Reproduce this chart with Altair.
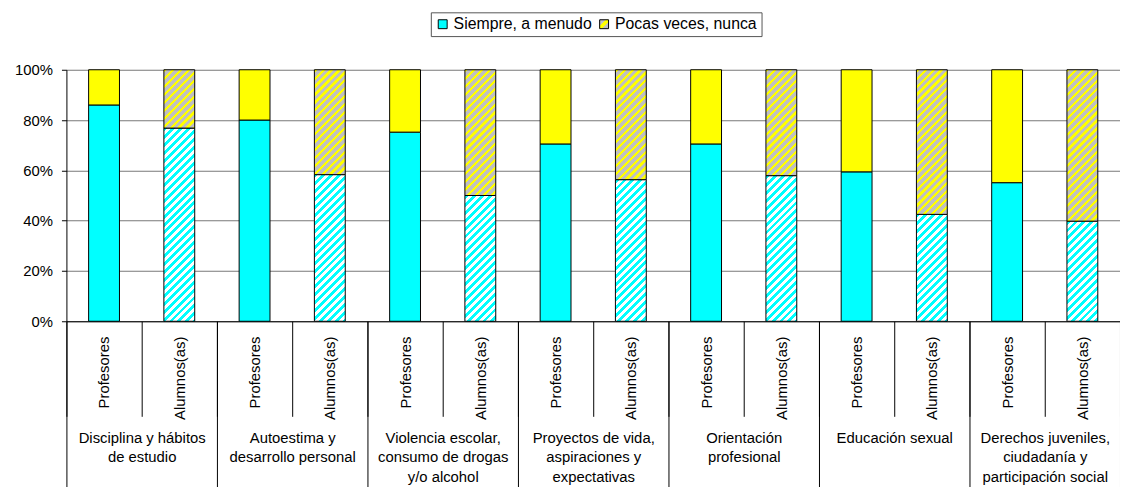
import altair as alt

# ---- data ----
categories = [
    "Disciplina y hábitos|de estudio",
    "Autoestima y|desarrollo personal",
    "Violencia escolar,|consumo de drogas|y/o alcohol",
    "Proyectos de vida,|aspiraciones y|expectativas",
    "Orientación|profesional",
    "Educación sexual",
    "Derechos juveniles,|ciudadanía y|participación social",
]
groups = ["Profesores", "Alumnos(as)"]
series = ["Siempre, a menudo", "Pocas veces, nunca"]
profesores = [0.86, 0.80, 0.752, 0.705, 0.705, 0.594, 0.551]
alumnos = [0.768, 0.583, 0.50, 0.563, 0.579, 0.425, 0.398]

# ---- layout / style ----
W, H = 1064, 254
PAD_INNER = 0.59
CYAN, YELLOW, GRAY, WHITE = "#00ffff", "#ffff00", "#c0c0c0", "#ffffff"
FONT = "Liberation Sans"
N_SLOTS = len(categories) * len(groups)

step = W / N_SLOTS
bar_w = step * (1 - PAD_INNER)


def hatch(w, h, c_stripe, c_back, frac, period=8.0):
    """Diagonal '/' hatching as a hard-stop linear gradient (bbox units)."""
    L = w + h
    s = L / (w * w + h * h)
    stops = []
    pos = 0.0
    while pos < L:
        a = pos / L
        b = min((pos + frac * period) / L, 1.0)
        c = min((pos + period) / L, 1.0)
        stops += [
            {"offset": a, "color": c_stripe},
            {"offset": b, "color": c_stripe},
            {"offset": b, "color": c_back},
            {"offset": c, "color": c_back},
        ]
        pos += period
    return {"gradient": "linear", "x1": 0, "y1": 0, "x2": w * s, "y2": h * s, "stops": stops}


rows = []
for i, cat in enumerate(categories):
    for j, g in enumerate(groups):
        v = profesores[i] if j == 0 else alumnos[i]
        slot = i * len(groups) + j
        for k, (lo, hi) in enumerate([(0.0, v), (v, 1.0)]):
            if j == 0:
                fill = CYAN if k == 0 else YELLOW
            else:
                h = (hi - lo) * H
                fill = hatch(bar_w, h, CYAN, WHITE, 0.5) if k == 0 else hatch(bar_w, h, YELLOW, GRAY, 0.4)
            rows.append({"slot": slot, "serie": series[k], "lo": lo, "hi": hi, "fill": fill})

group_expr = "[" + ",".join("'%s'" % g for g in groups) + "]"
slots = list(range(N_SLOTS))

bars = (
    alt.Chart(alt.Data(values=rows))
    .mark_bar(stroke="black", strokeWidth=1)
    .encode(
        x=alt.X(
            "slot:O",
            scale=alt.Scale(domain=slots, paddingInner=PAD_INNER, paddingOuter=PAD_INNER / 2),
            axis=None,
        ),
        y=alt.Y(
            "lo:Q",
            scale=alt.Scale(domain=[0, 1]),
            axis=alt.Axis(
                title=None,
                values=[0, 0.2, 0.4, 0.6, 0.8, 1.0],
                format=".0%",
                grid=True,
                gridColor="#777777",
                tickSize=5,
                labelPadding=9,
            ),
        ),
        y2="hi:Q",
        fill=alt.Fill("fill:N", scale=None),
    )
)

sub_axis = (
    alt.Chart(alt.Data(values=[{"slot": s} for s in slots]))
    .mark_point(opacity=0)
    .encode(
        x=alt.X(
            "slot:O",
            scale=alt.Scale(domain=slots, paddingInner=0, paddingOuter=0),
            axis=alt.Axis(
                title=None,
                orient="bottom",
                tickBand="extent",
                tickSize=96,
                labelAngle=270,
                labelPadding=-81,
                labelOverlap=False,
                labelExpr="isValid(datum.value) ? " + group_expr + "[datum.value % 2] : ''",
                domainColor="black",
            ),
        ),
        y=alt.value(0),
    )
)

cat_axis = (
    alt.Chart(alt.Data(values=[{"cat": c} for c in categories]))
    .mark_point(opacity=0)
    .encode(
        x=alt.X(
            "cat:N",
            sort=None,
            scale=alt.Scale(domain=categories, paddingInner=0, paddingOuter=0),
            axis=alt.Axis(
                title=None,
                orient="bottom",
                tickBand="extent",
                tickSize=175,
                labelAngle=0,
                labelBaseline="top",
                labelPadding=-65,
                labelLineHeight=20,
                labelOverlap=False,
                labelExpr="isValid(datum.value) ? split(datum.value, '|') : ''",
                domain=False,
            ),
        ),
        y=alt.value(0),
    )
)

legend_grad = (
    "{gradient:'linear',x1:0,y1:0,x2:1,y2:1,stops:["
    "{offset:0,color:'#c0c0c0'},{offset:0.36,color:'#c0c0c0'},"
    "{offset:0.36,color:'#ffff00'},{offset:0.62,color:'#ffff00'},"
    "{offset:0.62,color:'#c0c0c0'},{offset:1,color:'#c0c0c0'}]}"
)

legend_layer = (
    alt.Chart(alt.Data(values=[{"serie": s} for s in series]))
    .mark_square(opacity=0)
    .encode(
        color=alt.Color(
            "serie:N",
            scale=alt.Scale(domain=series, range=[CYAN, alt.ExprRef(expr=legend_grad)]),
            legend=alt.Legend(
                title=None,
                orient="none",
                legendX=368,
                legendY=-58,
                direction="horizontal",
                symbolType="square",
                symbolSize=81,
                symbolOpacity=1,
                symbolStrokeColor="black",
                symbolStrokeWidth=1,
                labelFont=FONT,
                labelFontSize=16,
                labelColor="black",
                labelOffset=3,
                columnPadding=4,
                padding=4,
                strokeColor="#555555",
                fillColor="white",
            ),
        ),
        x=alt.value(0),
        y=alt.value(0),
    )
)

chart = (
    alt.layer(bars, sub_axis, cat_axis, legend_layer)
    .resolve_scale(x="independent")
    .properties(
        width=W,
        height=H,
        autosize=alt.AutoSizeParams(type="none"),
        padding={"left": 59, "top": 60, "right": 0, "bottom": 165},
        background="white",
    )
    .configure_view(stroke=None)
    .configure_axis(
        labelFont=FONT,
        labelFontSize=15,
        labelColor="black",
        tickColor="black",
        domainColor="black",
    )
)

chart.save("out.html", embed_options={"renderer": "svg", "actions": False})
